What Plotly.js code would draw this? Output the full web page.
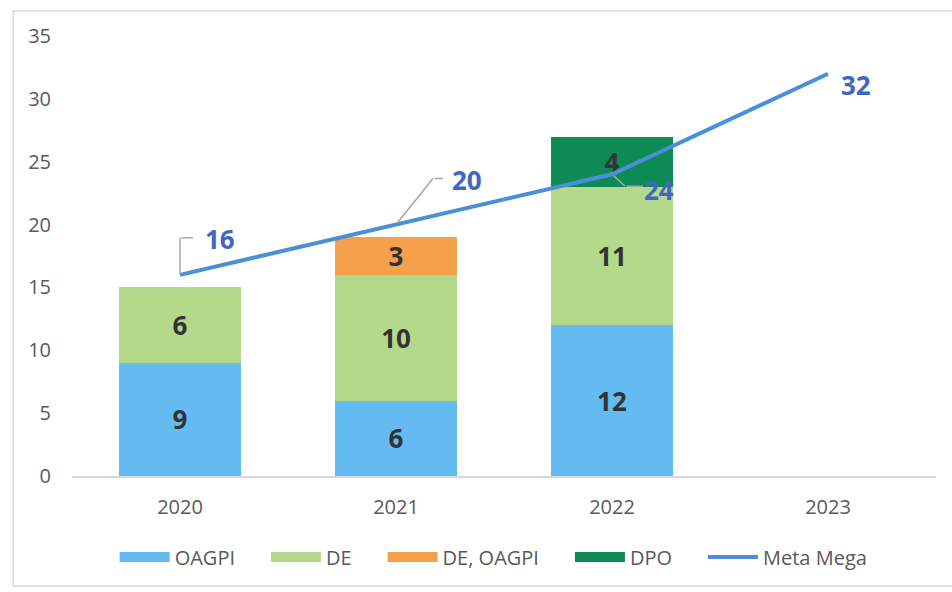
<!DOCTYPE html>
<html>
<head>
<meta charset="utf-8">
<script src="https://cdn.plot.ly/plotly-3.0.1.min.js"></script>
<style>html,body{margin:0;padding:0;background:#fff;}#chart{width:952px;height:592px;}</style>
</head>
<body>
<div id="chart"></div>
<script>
const years = ['2020', '2021', '2022', '2023'];
const seriesNames = ['OAGPI', 'DE', 'DE, OAGPI', 'DPO'];
const lineName = 'Meta Mega';
const oagpi = [9, 6, 12, null];
const de = [6, 10, 11, null];
const deOagpi = [null, 3, null, null];
const dpo = [null, null, 4, null];
const metaMega = [16, 20, 24, 32];
const yTicks = [0, 5, 10, 15, 20, 25, 30, 35];

const FONT = '"Open Sans", sans-serif';
const colors = ['#63BBF2', '#B5D98A', '#F5A04A', '#0E8A55'];
const lineColor = '#4A90D9';
const PAD = '\u00A0\u00A0\u00A0\u00A0\u00A0';

const barText = {color: '#333333', size: 26, family: FONT};
function barTrace(name, vals, color) {
  return {
    type: 'bar', name: name, x: years, y: vals, showlegend: false,
    marker: {color: color},
    text: vals.map(v => v == null ? '' : '<b>' + v + '</b>'),
    textposition: 'inside', insidetextanchor: 'middle', constraintext: 'none', textangle: 0,
    textfont: barText, hoverinfo: 'skip'
  };
}
const barSeries = [oagpi, de, deOagpi, dpo];
const traces = barSeries.map((s, i) => barTrace(seriesNames[i], s, colors[i]));
traces.push({type: 'scatter', mode: 'lines', name: lineName, x: years, y: metaMega,
   line: {color: lineColor, width: 4}, hoverinfo: 'skip', showlegend: false});
// legend-only entries (wide swatches like the original)
seriesNames.forEach((n, i) => traces.push({type: 'scatter', mode: 'lines', name: n + PAD, x: [null], y: [null],
  line: {color: colors[i], width: 12}, hoverinfo: 'skip'}));
traces.push({type: 'scatter', mode: 'lines', name: lineName, x: [null], y: [null],
  line: {color: lineColor, width: 4}, hoverinfo: 'skip'});

const labelPos = [
  {dx: 40, dy: -36, segs: [[0, 0, 0, -37], [0, -37, 13, -37]]},
  {dx: 71, dy: -45, segs: [[0, 0, 37, -46], [37, -46, 47, -46]]},
  {dx: 47, dy: 16, segs: [[0, 0, 13, 12], [13, 12, 31, 12]]},
  {dx: 28, dy: 11, segs: []}
];
const annotations = [];
const leaderColor = '#A6A6A6';
for (let i = 0; i < metaMega.length; i++) {
  const p = labelPos[i];
  annotations.push({x: i, y: metaMega[i], xref: 'x', yref: 'y', text: '<b>' + metaMega[i] + '</b>',
    font: {color: '#4068C0', size: 26, family: FONT}, showarrow: false, xshift: p.dx, yshift: -p.dy});
  p.segs.forEach(s => {
    annotations.push({x: i, y: metaMega[i], xref: 'x', yref: 'y', text: '', showarrow: true,
      xshift: s[2], yshift: -s[3], ax: s[0] - s[2], ay: s[1] - s[3], axref: 'pixel', ayref: 'pixel',
      arrowhead: 0, arrowwidth: 1.5, arrowcolor: leaderColor, standoff: 0, startstandoff: 0});
  });
}

const layout = {
  width: 952, height: 592,
  margin: {l: 72, r: 16, t: 36, b: 116},
  paper_bgcolor: '#ffffff', plot_bgcolor: '#ffffff',
  barmode: 'stack', bargap: 0.435,
  showlegend: true,
  legend: {orientation: 'h', x: 0.488, xanchor: 'center', y: -0.184, yanchor: 'middle',
    font: {family: FONT, size: 20, color: '#595959'}, itemwidth: 50, traceorder: 'normal'},
  xaxis: {type: 'category', range: [-0.5, 3.5], showline: true, linecolor: '#D9D9D9', linewidth: 1.5,
    ticks: '', showgrid: false, zeroline: false, ticklabelstandoff: 12,
    tickfont: {family: FONT, size: 20, color: '#595959'}},
  yaxis: {range: [0, 35], tickvals: yTicks, showgrid: false, zeroline: false, showline: false,
    ticks: '', ticklabelstandoff: 20,
    tickfont: {family: FONT, size: 20, color: '#595959'}},
  annotations: annotations,
  shapes: [{type: 'rect', xref: 'paper', yref: 'paper', x0: -0.068, x1: 1.02, y0: -0.25, y1: 1.057,
    line: {color: '#D9D9D9', width: 1.5}, fillcolor: 'rgba(0,0,0,0)', layer: 'below'}]
};

Plotly.newPlot('chart', traces, layout, {displayModeBar: false});
</script>
</body>
</html>
